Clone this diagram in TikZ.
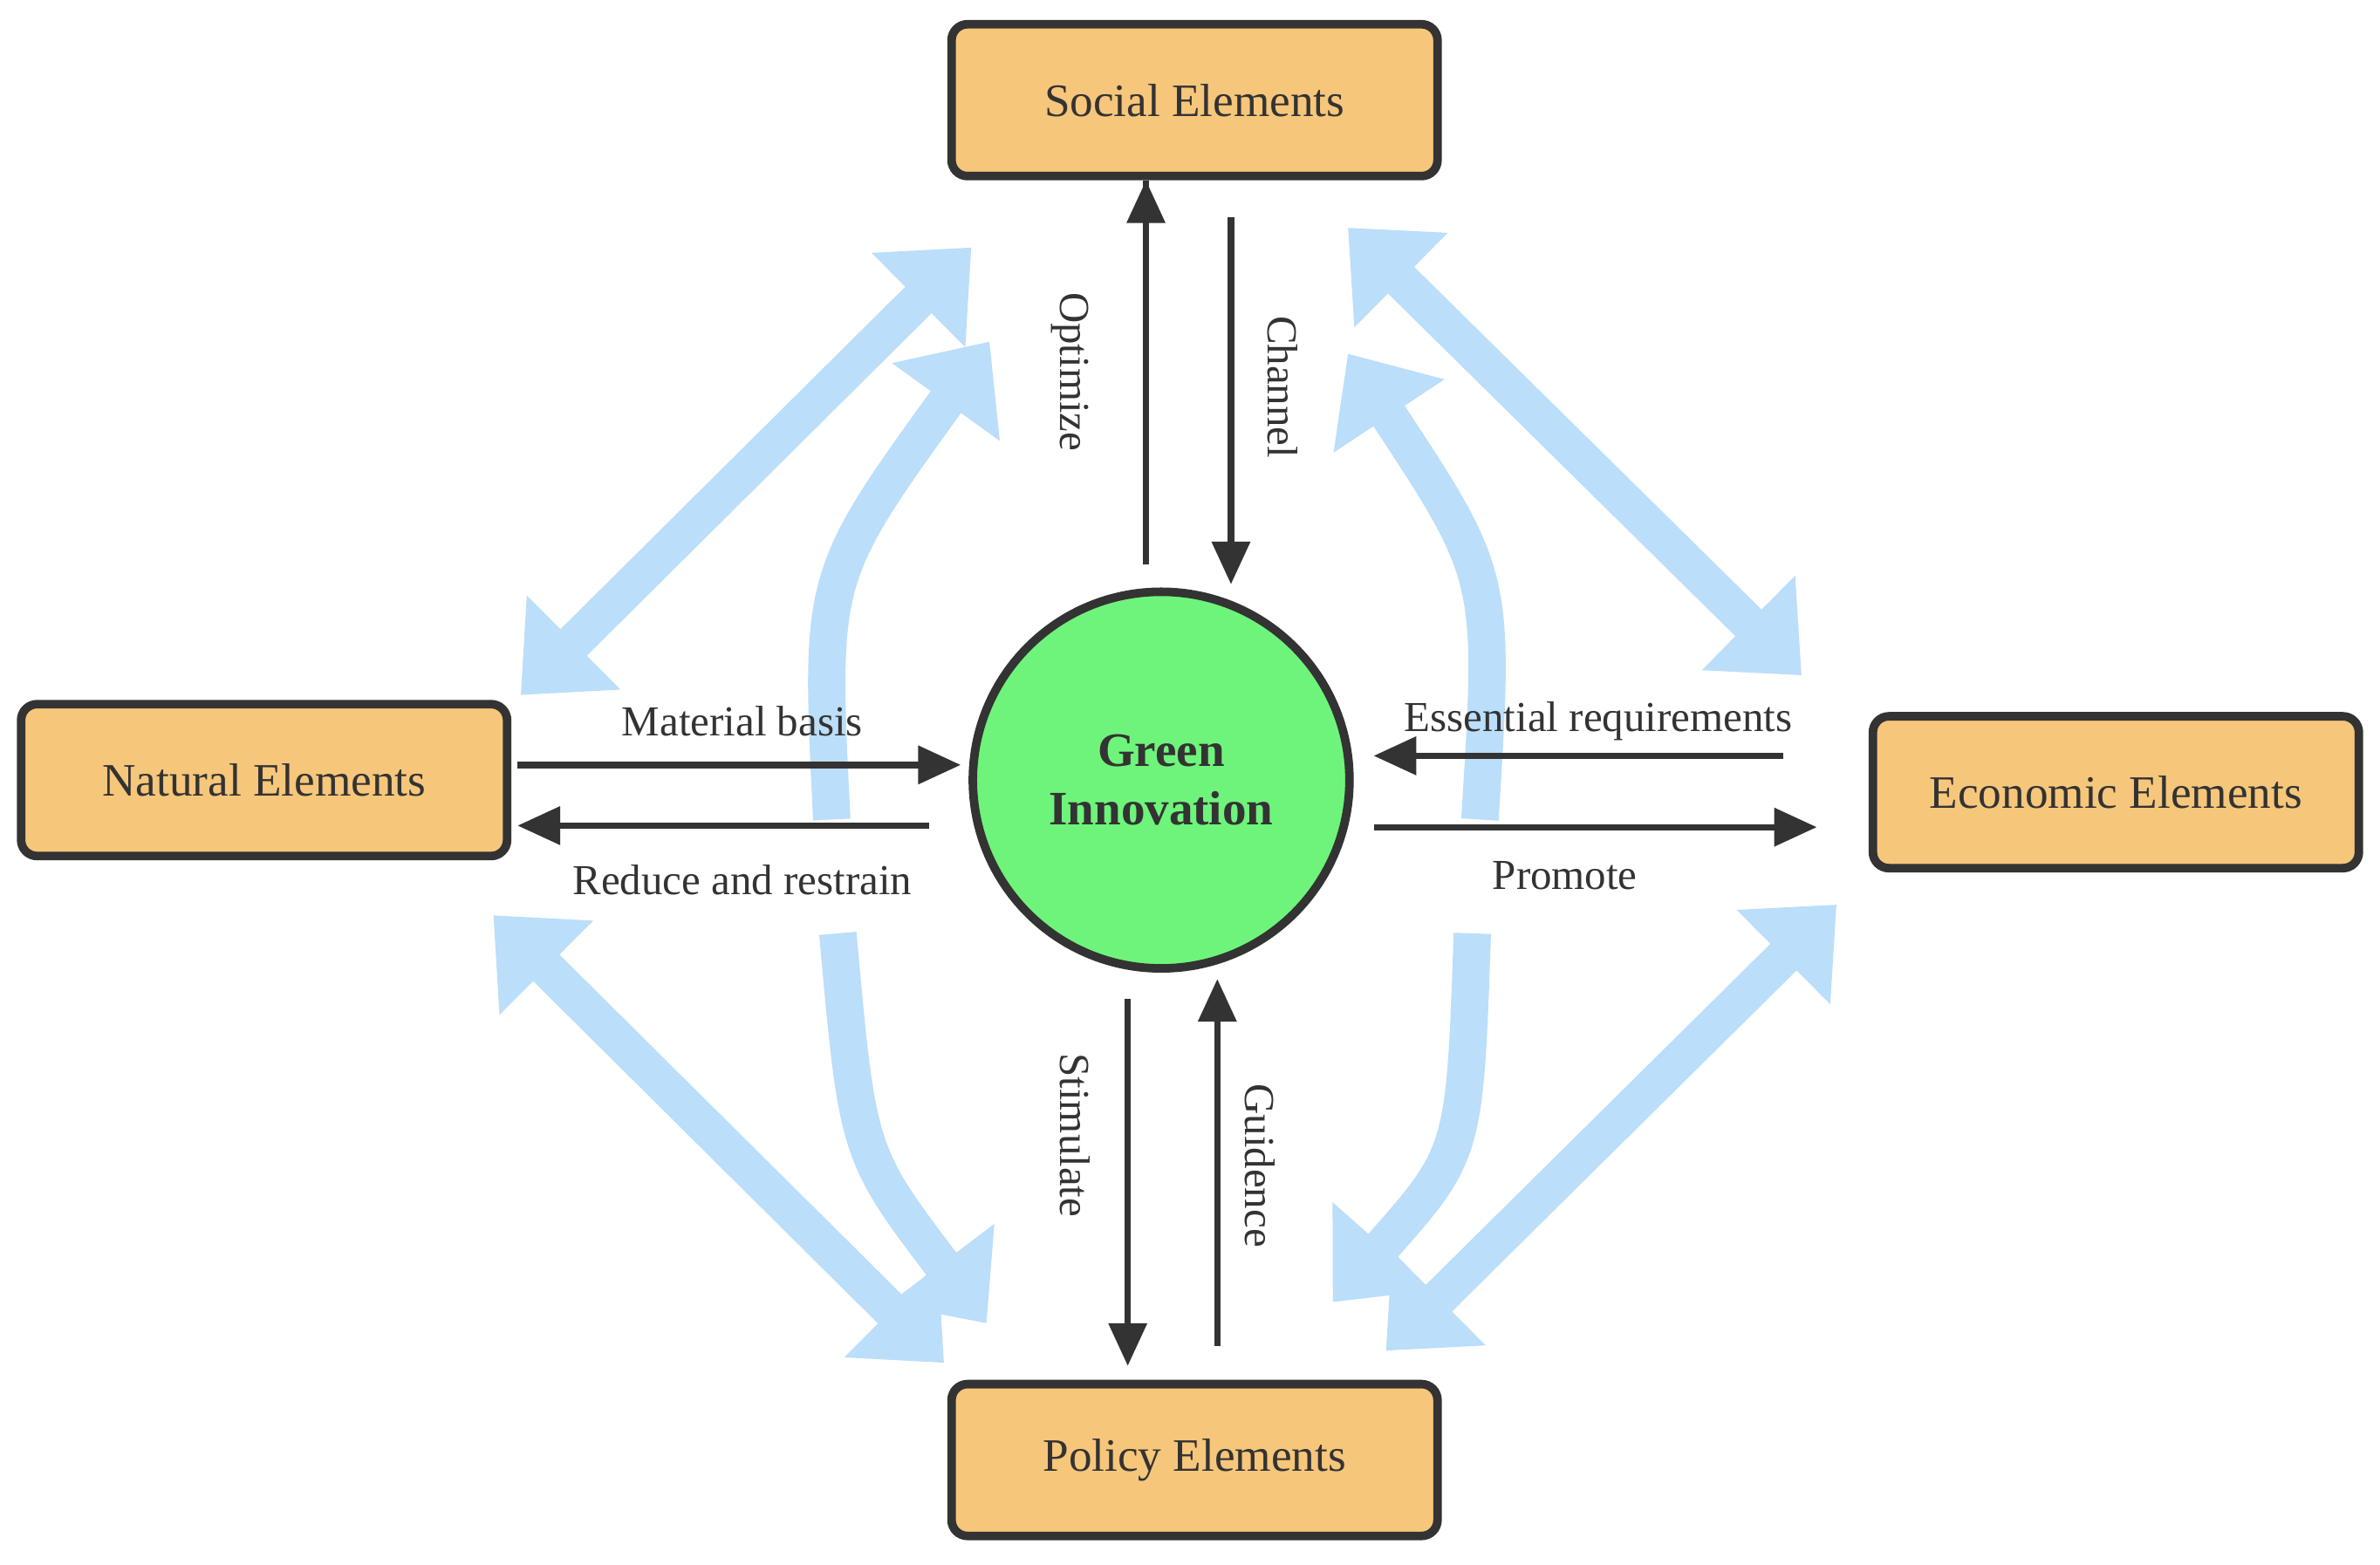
\documentclass[tikz,border=0pt]{standalone}
\usepackage{fontspec}
\setmainfont{Liberation Serif}
\usetikzlibrary{arrows.meta}
\definecolor{boxfill}{HTML}{F6C67A}
\definecolor{greenfill}{HTML}{6EF47A}
\definecolor{lblue}{HTML}{BBDEFA}
\definecolor{dark}{HTML}{333333}
\begin{document}
\begin{tikzpicture}[x=0.01cm,y=-0.01cm,
  elem/.style={draw=dark, line width=1.6pt, rounded corners=3pt, fill=boxfill,
    minimum width=3.2cm, minimum height=1cm, font=\fontsize{8.7}{10}\selectfont, text=dark},
  blk/.style={draw=dark, line width=1.2pt, -{Triangle[length=8pt,width=7pt]}},
  lbl/.style={font=\fontsize{8}{9}\selectfont, text=dark},
  big/.style={draw=lblue, line width=7pt, {Triangle[length=14pt,width=24pt]}-{Triangle[length=14pt,width=24pt]}},
  crv/.style={draw=lblue, line width=7pt, -{Triangle[length=14pt,width=24pt]}}]
\useasboundingbox (0,0) rectangle (1568,1031);
\node[elem] (soc) at (787,66) {Social Elements};
\node[elem] (nat) at (174,514) {Natural Elements};
\node[elem] (eco) at (1394,522) {Economic Elements};
\node[elem] (pol) at (787,962) {Policy Elements};
\node[circle, draw=dark, line width=1.6pt, fill=greenfill, minimum size=2.48cm,
  align=center, font=\fontsize{9}{11}\selectfont\bfseries, text=dark] (gi) at (765,514) {Green\\Innovation};
% light blue curved arrows
\coordinate (c1s) at (548,540); \coordinate (c1e) at (652,225);
\coordinate (c2s) at (552,615); \coordinate (c2e) at (650,872);
\coordinate (c3s) at (975,540); \coordinate (c3e) at (888,233);
\coordinate (c4s) at (970,615); \coordinate (c4e) at (878,858);
\draw[crv] (c1s) .. controls (540,380) .. (c1e);
\draw[crv] (c2s) .. controls (565,760) .. (c2e);
\draw[crv] (c3s) .. controls (985,380) .. (c3e);
\draw[crv] (c4s) .. controls (965,760) .. (c4e);
% light blue double arrows
\coordinate (nw1) at (343,458); \coordinate (nw2) at (640,163);
\coordinate (ne1) at (888,150); \coordinate (ne2) at (1187,445);
\coordinate (sw1) at (325,603); \coordinate (sw2) at (622,898);
\coordinate (se1) at (1210,596); \coordinate (se2) at (913,890);
\draw[big] (nw1) -- (nw2);
\draw[big] (ne1) -- (ne2);
\draw[big] (sw1) -- (sw2);
\draw[big] (se1) -- (se2);
% black arrows
\draw[blk] (gi.north -| 755,0) ++(0,-15) -- (755,128 |- soc.south) ++(0,0);
\draw[blk] (811,143) -- (811,385);
\draw[blk] (743,658) -- (743,900);
\draw[blk] (802,887) -- (802,645);
\draw[blk] (341,504) -- (633,504);
\draw[blk] (612,544) -- (341,544);
\draw[blk] (1175,498) -- (905,498);
\draw[blk] (905,545) -- (1197,545);
% labels
\node[lbl, rotate=-90] at (705,245) {Optimize};
\node[lbl, rotate=-90] at (845,255) {Channel};
\node[lbl, rotate=-90] at (708,748) {Stimulate};
\node[lbl, rotate=-90] at (830,768) {Guidence};
\node[lbl] at (489,475) {Material basis};
\node[lbl] at (489,580) {Reduce and restrain};
\node[lbl] at (1053,475) {Essential requirements};
\node[lbl] at (1031,577) {Promote};
\end{tikzpicture}
\end{document}
